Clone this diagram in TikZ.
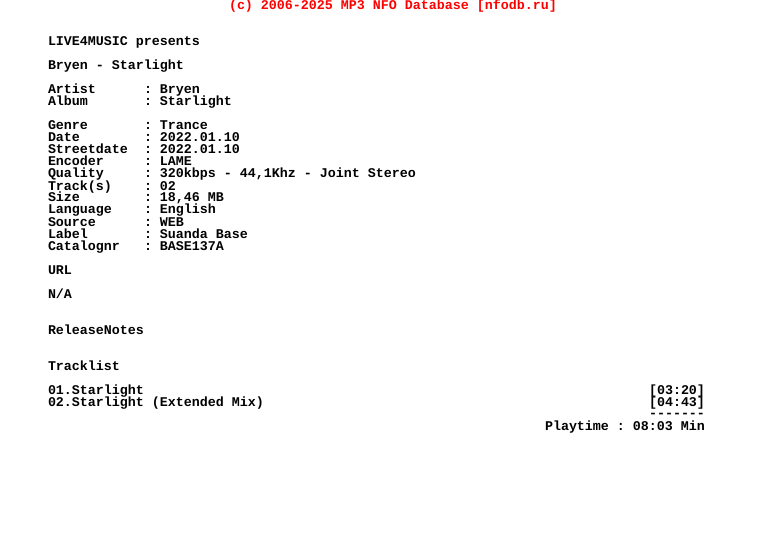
\documentclass[tikz,border=0pt]{standalone}
\usepackage{fontspec}
\setmonofont{Liberation Mono}
\definecolor{nfored}{RGB}{255,0,0}
\tikzset{
  nfo/.style={anchor=base west, inner sep=0pt, outer sep=0pt, text=black,
    font=\fontsize{13.33pt}{12pt}\selectfont\ttfamily\bfseries},
  nfotop/.style={nfo, text=nfored},
}
\begin{document}
\begin{tikzpicture}[x=1pt,y=-1pt]
  \useasboundingbox (0,0) rectangle (784,540);
  \node [nfotop] (head) at (229,10) {(c) 2006-2025 MP3 NFO Database [nfodb.ru]};
  \node [nfo] (presents) at (48,46) {LIVE4MUSIC presents};
  \node [nfo] (title) at (48,70) {Bryen - Starlight};
  \node [nfo] (artist) at (48,94) {Artist};
  \node [nfo] (artistv) at (144,94) {: Bryen};
  \node [nfo] (album) at (48,106) {Album};
  \node [nfo] (albumv) at (144,106) {: Starlight};
  \node [nfo] (genre) at (48,130) {Genre};
  \node [nfo] (genrev) at (144,130) {: Trance};
  \node [nfo] (date) at (48,142) {Date};
  \node [nfo] (datev) at (144,142) {: 2022.01.10};
  \node [nfo] (street) at (48,154) {Streetdate};
  \node [nfo] (streetv) at (144,154) {: 2022.01.10};
  \node [nfo] (encoder) at (48,166) {Encoder};
  \node [nfo] (encoderv) at (144,166) {: LAME};
  \node [nfo] (quality) at (48,178) {Quality};
  \node [nfo] (qualityv) at (144,178) {: 320kbps - 44,1Khz - Joint Stereo};
  \node [nfo] (tracks) at (48,190) {Track(s)};
  \node [nfo] (tracksv) at (144,190) {: 02};
  \node [nfo] (size) at (48,202) {Size};
  \node [nfo] (sizev) at (144,202) {: 18,46 MB};
  \node [nfo] (language) at (48,214) {Language};
  \node [nfo] (languagev) at (144,214) {: English};
  \node [nfo] (source) at (48,226) {Source};
  \node [nfo] (sourcev) at (144,226) {: WEB};
  \node [nfo] (label) at (48,238) {Label};
  \node [nfo] (labelv) at (144,238) {: Suanda Base};
  \node [nfo] (catalog) at (48,250) {Catalognr};
  \node [nfo] (catalogv) at (144,250) {: BASE137A};
  \node [nfo] (url) at (48,274) {URL};
  \node [nfo] (na) at (48,298) {N/A};
  \node [nfo] (notes) at (48,334) {ReleaseNotes};
  \node [nfo] (tracklist) at (48,370) {Tracklist};
  \node [nfo] (one) at (48,394) {01.Starlight};
  \node [nfo] (onet) at (649,394) {[03:20]};
  \node [nfo] (two) at (48,406) {02.Starlight (Extended Mix)};
  \node [nfo] (twot) at (649,406) {[04:43]};
  \node [nfo] (rule) at (649,417) {-------};
  \node [nfo] (play) at (545,430) {Playtime : 08:03 Min};
\end{tikzpicture}
\end{document}
